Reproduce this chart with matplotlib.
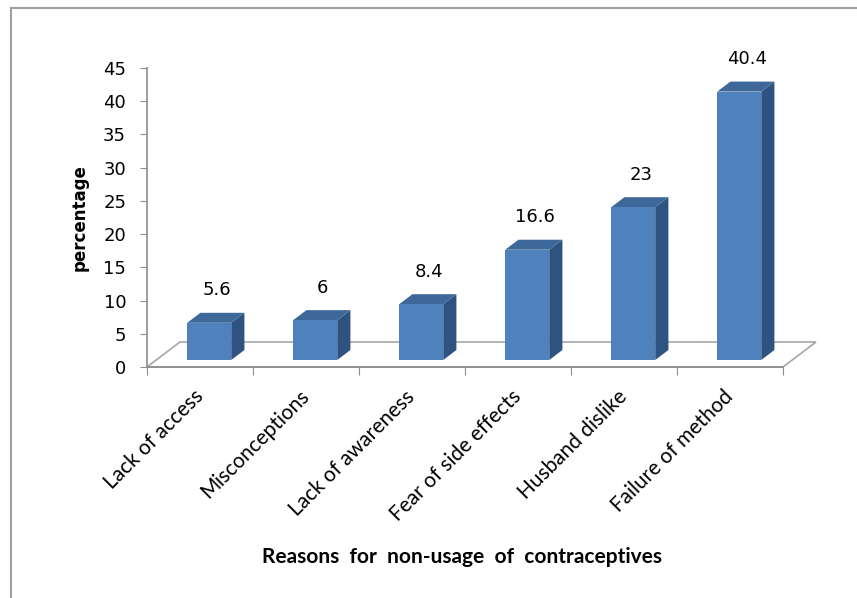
import numpy as np
import matplotlib.pyplot as plt
from matplotlib.patches import Polygon
from matplotlib.lines import Line2D

reasons = ["Lack of access", "Misconceptions", "Lack of awareness",
           "Fear of side effects", "Husband dislike", "Failure of method"]
values = [5.6, 6, 8.4, 16.6, 23, 40.4]
value_labels = ["5.6", "6", "8.4", "16.6", "23", "40.4"]
yticks = [0, 5, 10, 15, 20, 25, 30, 35, 40, 45]

front = "#4f81bd"
side = "#2f5381"
top = "#3d6899"
grey = "#8c8c8c"

# fake 3d depth (category units, value units)
DX, DY = 0.311, 3.76
f0, d = 0.28, 0.40
w = 0.415

fig = plt.figure(figsize=(8.57, 5.98), dpi=100)
ax = fig.add_axes([147 / 857, 1 - 367 / 598, 636 / 857, 299 / 598])
n = len(values)
ax.set_xlim(0, n)
ax.set_ylim(0, 45)

# floor
floor = Polygon([(0, 0), (n, 0), (n + DX, DY), (DX, DY)], closed=True,
                facecolor="white", edgecolor="#a6a6a6", lw=1.2, clip_on=False, zorder=1)
ax.add_patch(floor)

x = np.arange(n) + 0.5 + f0 * DX
base = f0 * DY
ax.bar(x, values, width=w, bottom=base, color=front, zorder=3)
for xi, v, lab in zip(x, values, value_labels):
    xl, xr = xi - w / 2, xi + w / 2
    t = base + v
    ax.add_patch(Polygon([(xr, base), (xr + d * DX, base + d * DY),
                          (xr + d * DX, t + d * DY), (xr, t)],
                         closed=True, facecolor=side, edgecolor="none", zorder=2, clip_on=False))
    ax.add_patch(Polygon([(xl, t), (xl + d * DX, t + d * DY),
                          (xr + d * DX, t + d * DY), (xr, t)],
                         closed=True, facecolor=top, edgecolor="none", zorder=2, clip_on=False))
    ax.text(xi + 0.07, t + 4.9, lab, ha="center", va="center", fontsize=13,
            family="DejaVu Sans")

for s in ["top", "right"]:
    ax.spines[s].set_visible(False)
for s in ["left", "bottom"]:
    ax.spines[s].set_color(grey)
    ax.spines[s].set_linewidth(1.2)

ax.set_yticks(yticks)
ax.tick_params(axis="y", direction="out", length=5, color=grey, pad=10, labelsize=13)
ax.set_xticks(np.arange(n + 1))
ax.set_xticklabels([])
ax.tick_params(axis="x", which="major", direction="out", length=6, color=grey)
ax.set_xticks(np.arange(n) + 0.5, minor=True)
ax.set_xticklabels(reasons, minor=True, rotation=45, ha="right",
                   rotation_mode="anchor", fontsize=15, family="Lato")
ax.tick_params(axis="x", which="minor", length=0, pad=19)
for lbl in ax.get_xticklabels(minor=True):
    lbl.set_va("center")

fig.text(462 / 857, 1 - 557 / 598, "Reasons  for  non-usage  of  contraceptives",
         ha="center", va="center", fontsize=15, fontweight="bold", family="Lato")
fig.text(80 / 857, 1 - 218 / 598, "percentage", rotation=90, ha="center",
         va="center", fontsize=12, fontweight="bold", family="DejaVu Sans")

# chart border
fig.add_artist(Line2D([11 / 857, 11 / 857], [0, 1 - 8 / 598], color="#a0a0a0", lw=1.5))
fig.add_artist(Line2D([11 / 857, 1], [1 - 8 / 598, 1 - 8 / 598], color="#a0a0a0", lw=1.5))

fig.savefig("out.png", dpi=100)
